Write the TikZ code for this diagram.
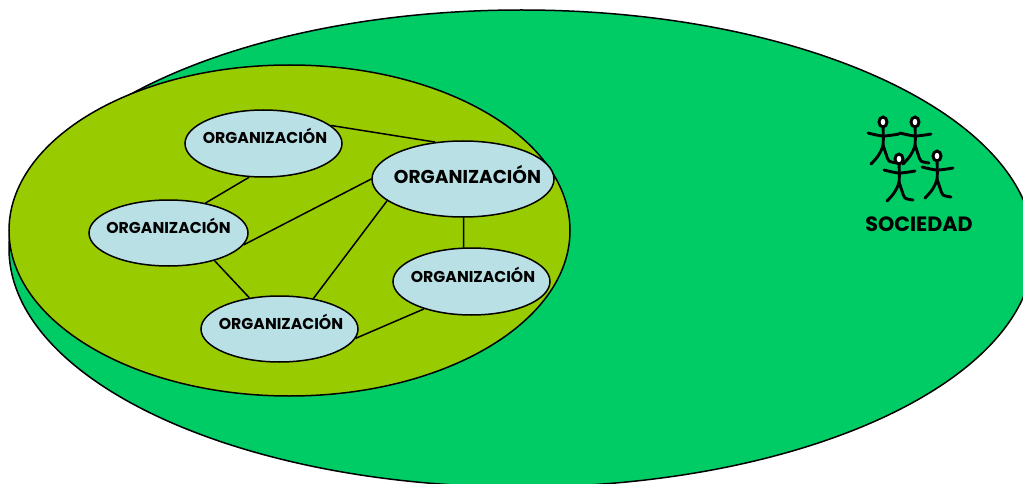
\documentclass[tikz,border=0pt]{standalone}
\usepackage{fontspec}
\setmainfont{Poppins}
\usetikzlibrary{shapes}
\definecolor{socgreen}{RGB}{0,204,102}
\definecolor{grpolive}{RGB}{153,204,0}
\definecolor{orgblue}{RGB}{185,224,229}
\tikzstyle{blob}=[ellipse,draw=black,line width=1.5pt,inner sep=0pt]
\tikzstyle{org}=[blob,fill=orgblue,minimum width=157pt,minimum height=67pt]
\tikzstyle{orgtxt}=[inner sep=0pt,font=\fontsize{15.7}{18}\selectfont\bfseries]
\tikzstyle{lnk}=[line width=1.5pt]
\tikzstyle{fig}=[line width=2.9pt,line cap=round,line join=round]
\begin{document}
\begin{tikzpicture}[x=1pt,y=-1pt]
\useasboundingbox (0,0) rectangle (1023,484);
\clip (0,0) rectangle (1023,484);
\node[blob,fill=socgreen,minimum width=1025pt,minimum height=477pt] (soc) at (521.5,248.5) {};
\node[blob,fill=grpolive,minimum width=561pt,minimum height=331pt] (grp) at (289.5,230.5) {};
\node[org,label={[orgtxt,xshift=1.5pt,yshift=7.2pt]center:ORGANIZACIÓN}] (org1) at (263.5,143.5) {};
\node[org,minimum width=182pt,minimum height=76pt,label={[orgtxt,xshift=4.5pt,yshift=5pt,font=\fontsize{18.6}{21}\selectfont\bfseries]center:ORGANIZACIÓN}] (org2) at (463,179) {};
\node[org,minimum width=159pt,minimum height=66pt,label={[orgtxt,yshift=6.7pt]center:ORGANIZACIÓN}] (org3) at (168.5,233) {};
\node[org,label={[orgtxt,xshift=1.5pt,yshift=6.2pt]center:ORGANIZACIÓN}] (org4) at (471.5,281.5) {};
\node[org,minimum height=66pt,label={[orgtxt,xshift=1.5pt,yshift=6.7pt]center:ORGANIZACIÓN}] (org5) at (279.5,329) {};
\draw[lnk] (org1.15) -- (org2.127);
\draw[lnk] (org1.247) -- (org3.39);
\draw[lnk] (org3.-9) -- (org2.180);
\draw[lnk] (org3.-31) -- (org5.134);
\draw[lnk] (org2.196) -- (org5.42);
\draw[lnk] (org2.271) -- (org4.103);
\draw[lnk] (org5.-7) -- (org4.210);
% gente
\foreach \x/\y in {883/122,915/122,937/156,899/159} {
\begin{scope}[shift={(\x,\y)}]
\draw[fig] plot[smooth] coordinates {(0,4) (0,23) (-5,34) (-12,42)};
\draw[fig] plot[smooth] coordinates {(0,23) (3,32) (6,39) (14,41)};
\draw[fig] plot[smooth] coordinates {(-15,11) (0,14) (16,12)};
\draw[fill=white,line width=2.9pt] (0,0) ellipse [x radius=4,y radius=5];
\end{scope}}
\node[inner sep=0pt,font=\fontsize{20.7}{23}\selectfont\bfseries] (soclabel) at (919,224) {SOCIEDAD};
\end{tikzpicture}
\end{document}
